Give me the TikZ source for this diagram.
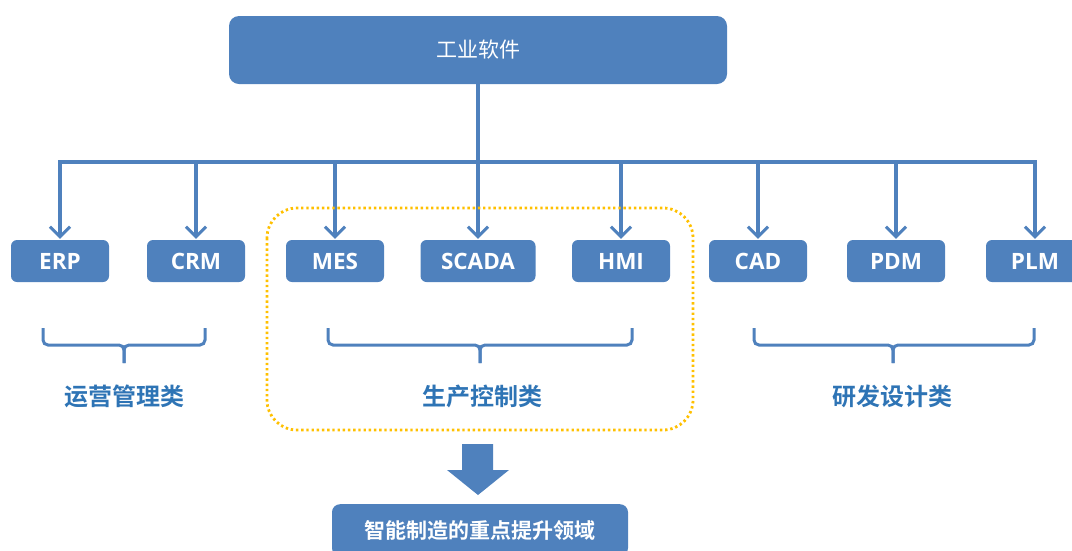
\documentclass[tikz,border=0pt]{standalone}
\usepackage{fontspec}
\setmainfont{Open Sans}
\newfontfamily\cjk{Noto Sans CJK SC}
\newfontfamily\cjkb{Noto Sans CJK SC Bold}
\newfontfamily\latb{Open Sans Bold}
\usetikzlibrary{arrows.meta}
\definecolor{boxblue}{HTML}{4F81BD}
\definecolor{labblue}{HTML}{2E74B5}
\definecolor{dotorange}{HTML}{FFC000}
\tikzset{
  swbox/.style={fill=boxblue, rounded corners=6pt, minimum height=42pt, minimum width=98pt, inner sep=0pt, text=white, font=\latb\fontsize{22.5}{22.5}\selectfont},
  conn/.style={draw=boxblue, line width=3.3pt},
  arr/.style={conn, -{Straight Barb[length=10pt,width=20pt,line width=3pt]}},
  bracepart/.style={draw=boxblue, line width=3pt, rounded corners=5pt},
  catlabel/.style={text=labblue, font=\cjkb\fontsize{24}{24}\selectfont, inner sep=0pt},
}
\begin{document}
\begin{tikzpicture}[x=1pt,y=-1pt]
\useasboundingbox (0,0) rectangle (1072,550);
\clip (0,0) rectangle (1072,550);
% top box
\node[swbox, minimum width=498pt, minimum height=68pt, rounded corners=10pt, font=\cjk\fontsize{21}{21}\selectfont] (top) at (478,50) {工业软件};
% bus
\coordinate (busL) at (60,162);
\coordinate (busR) at (1035,162);
\coordinate (bus) at (478,162);
% boxes
\node[swbox] (erp) at (60,261) {ERP};
\node[swbox] (crm) at (196,261) {CRM};
\node[swbox] (mes) at (335,261) {MES};
\node[swbox, minimum width=115pt] (scada) at (478,261) {SCADA};
\node[swbox] (hmi) at (621,261) {HMI};
\node[swbox] (cad) at (758,261) {CAD};
\node[swbox] (pdm) at (896,261) {PDM};
\node[swbox] (plm) at (1035,261) {PLM};
% connectors
\draw[conn] (top.south) -- (bus);
\draw[conn] (busL) -- (busR);
\foreach \n in {erp,crm,mes,scada,hmi,cad,pdm,plm}{
  \draw[arr] ([yshift=1.6pt]\n.north |- bus) -- ([yshift=1pt]\n.north);
}
% braces
\coordinate (b1l) at (43,328); \coordinate (b1r) at (205,328); \coordinate (b1m) at (124,363);
\coordinate (b2l) at (328,328); \coordinate (b2r) at (632,328); \coordinate (b2m) at (480,363);
\coordinate (b3l) at (754,328); \coordinate (b3r) at (1034,328); \coordinate (b3m) at (893,363);
\foreach \b in {b1,b2,b3}{
  \draw[bracepart] (\b l) |- ([yshift=18pt]\b m) -- (\b m);
  \draw[bracepart] (\b r) |- ([yshift=18pt]\b m) -- (\b m);
}
% labels
\node[catlabel] (lab1) at (124,396) {运营管理类};
\node[catlabel] (lab2) at (482,396) {生产控制类};
\node[catlabel] (lab3) at (892,396) {研发设计类};
% dotted group
\draw[dotorange, line width=2.8pt, dash pattern=on 2.4pt off 2.8pt, rounded corners=30pt] (267,208) rectangle (693,430);
% big arrow
\fill[boxblue] (462,444) -- (493,444) -- (493,470) -- (509,470) -- (478,495) -- (447,470) -- (462,470) -- cycle;
% bottom box
\node[swbox, minimum width=296pt, minimum height=52pt, anchor=north, rounded corners=8pt, font=\cjkb\fontsize{21}{21}\selectfont] (goal) at (480,504) {智能制造的重点提升领域};
\end{tikzpicture}
\end{document}
